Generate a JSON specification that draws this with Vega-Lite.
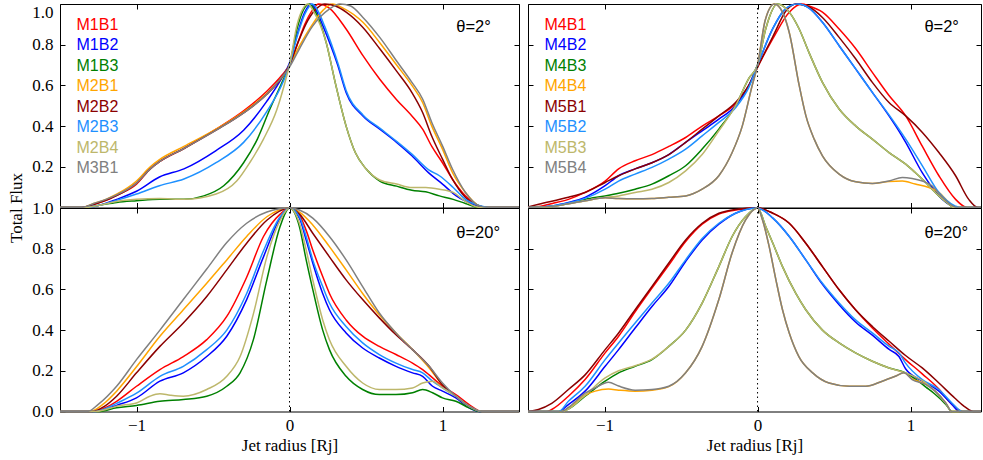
{
"$schema": "https://vega.github.io/schema/vega-lite/v6.json",
"padding": {"left": 7, "top": 0, "right": 0, "bottom": 5},
"background": "white",
"columns": 2,
"spacing": {"row": 0, "column": 9},
"bounds": "flush",
"resolve": {"scale": {"color": "independent"}, "legend": {"color": "independent"}},
"datasets": {
"tl": [
{"s":"M1B1","x":-1.5,"y":0},{"s":"M1B1","x":-1.35,"y":0},{"s":"M1B1","x":-1.28,"y":0.015},{"s":"M1B1","x":-1.2,"y":0.035},{"s":"M1B1","x":-1.13,"y":0.06},{"s":"M1B1","x":-1.0,"y":0.115},{"s":"M1B1","x":-0.91,"y":0.19},{"s":"M1B1","x":-0.85,"y":0.225},{"s":"M1B1","x":-0.69,"y":0.29},{"s":"M1B1","x":-0.48,"y":0.385},{"s":"M1B1","x":-0.3,"y":0.475},{"s":"M1B1","x":-0.15,"y":0.57},{"s":"M1B1","x":-0.05,"y":0.65},{"s":"M1B1","x":0,"y":0.7},{"s":"M1B1","x":0.05,"y":0.8},{"s":"M1B1","x":0.1,"y":0.9},{"s":"M1B1","x":0.15,"y":0.97},{"s":"M1B1","x":0.19,"y":1.0},{"s":"M1B1","x":0.26,"y":0.98},{"s":"M1B1","x":0.37,"y":0.877},{"s":"M1B1","x":0.48,"y":0.746},{"s":"M1B1","x":0.59,"y":0.63},{"s":"M1B1","x":0.7,"y":0.53},{"s":"M1B1","x":0.8,"y":0.45},{"s":"M1B1","x":0.87,"y":0.385},{"s":"M1B1","x":0.93,"y":0.3},{"s":"M1B1","x":1.0,"y":0.22},{"s":"M1B1","x":1.065,"y":0.139},{"s":"M1B1","x":1.15,"y":0.057},{"s":"M1B1","x":1.24,"y":0.008},{"s":"M1B1","x":1.3,"y":0},{"s":"M1B1","x":1.5,"y":0},
{"s":"M1B2","x":-1.5,"y":0},{"s":"M1B2","x":-1.35,"y":0},{"s":"M1B2","x":-1.25,"y":0.01},{"s":"M1B2","x":-1.13,"y":0.04},{"s":"M1B2","x":-1.0,"y":0.08},{"s":"M1B2","x":-0.85,"y":0.15},{"s":"M1B2","x":-0.69,"y":0.19},{"s":"M1B2","x":-0.48,"y":0.28},{"s":"M1B2","x":-0.3,"y":0.38},{"s":"M1B2","x":-0.15,"y":0.52},{"s":"M1B2","x":-0.04,"y":0.65},{"s":"M1B2","x":0,"y":0.71},{"s":"M1B2","x":0.05,"y":0.85},{"s":"M1B2","x":0.1,"y":0.96},{"s":"M1B2","x":0.14,"y":1.0},{"s":"M1B2","x":0.18,"y":0.96},{"s":"M1B2","x":0.22,"y":0.89},{"s":"M1B2","x":0.315,"y":0.7},{"s":"M1B2","x":0.37,"y":0.565},{"s":"M1B2","x":0.48,"y":0.45},{"s":"M1B2","x":0.59,"y":0.385},{"s":"M1B2","x":0.7,"y":0.32},{"s":"M1B2","x":0.8,"y":0.254},{"s":"M1B2","x":0.91,"y":0.17},{"s":"M1B2","x":1.0,"y":0.115},{"s":"M1B2","x":1.09,"y":0.057},{"s":"M1B2","x":1.2,"y":0.016},{"s":"M1B2","x":1.28,"y":0},{"s":"M1B2","x":1.5,"y":0},
{"s":"M1B3","x":-1.5,"y":0},{"s":"M1B3","x":-1.35,"y":0},{"s":"M1B3","x":-1.25,"y":0.01},{"s":"M1B3","x":-1.13,"y":0.025},{"s":"M1B3","x":-1.0,"y":0.033},{"s":"M1B3","x":-0.85,"y":0.04},{"s":"M1B3","x":-0.69,"y":0.04},{"s":"M1B3","x":-0.56,"y":0.057},{"s":"M1B3","x":-0.43,"y":0.107},{"s":"M1B3","x":-0.3,"y":0.22},{"s":"M1B3","x":-0.21,"y":0.336},{"s":"M1B3","x":-0.13,"y":0.48},{"s":"M1B3","x":-0.04,"y":0.63},{"s":"M1B3","x":0,"y":0.7},{"s":"M1B3","x":0.05,"y":0.88},{"s":"M1B3","x":0.09,"y":0.97},{"s":"M1B3","x":0.13,"y":1.0},{"s":"M1B3","x":0.17,"y":0.96},{"s":"M1B3","x":0.24,"y":0.81},{"s":"M1B3","x":0.3,"y":0.61},{"s":"M1B3","x":0.37,"y":0.4},{"s":"M1B3","x":0.43,"y":0.27},{"s":"M1B3","x":0.5,"y":0.19},{"s":"M1B3","x":0.59,"y":0.13},{"s":"M1B3","x":0.7,"y":0.105},{"s":"M1B3","x":0.8,"y":0.085},{"s":"M1B3","x":0.89,"y":0.077},{"s":"M1B3","x":0.98,"y":0.057},{"s":"M1B3","x":1.07,"y":0.04},{"s":"M1B3","x":1.15,"y":0.02},{"s":"M1B3","x":1.24,"y":0},{"s":"M1B3","x":1.5,"y":0},
{"s":"M2B1","x":-1.5,"y":0},{"s":"M2B1","x":-1.36,"y":0},{"s":"M2B1","x":-1.28,"y":0.02},{"s":"M2B1","x":-1.2,"y":0.04},{"s":"M2B1","x":-1.13,"y":0.065},{"s":"M2B1","x":-1.0,"y":0.13},{"s":"M2B1","x":-0.91,"y":0.2},{"s":"M2B1","x":-0.85,"y":0.235},{"s":"M2B1","x":-0.69,"y":0.3},{"s":"M2B1","x":-0.48,"y":0.385},{"s":"M2B1","x":-0.3,"y":0.47},{"s":"M2B1","x":-0.15,"y":0.56},{"s":"M2B1","x":-0.04,"y":0.65},{"s":"M2B1","x":0,"y":0.7},{"s":"M2B1","x":0.07,"y":0.8},{"s":"M2B1","x":0.15,"y":0.9},{"s":"M2B1","x":0.22,"y":0.97},{"s":"M2B1","x":0.28,"y":1.0},{"s":"M2B1","x":0.35,"y":0.98},{"s":"M2B1","x":0.48,"y":0.91},{"s":"M2B1","x":0.59,"y":0.81},{"s":"M2B1","x":0.7,"y":0.7},{"s":"M2B1","x":0.8,"y":0.6},{"s":"M2B1","x":0.87,"y":0.516},{"s":"M2B1","x":0.93,"y":0.4},{"s":"M2B1","x":1.0,"y":0.287},{"s":"M2B1","x":1.065,"y":0.172},{"s":"M2B1","x":1.15,"y":0.074},{"s":"M2B1","x":1.24,"y":0.008},{"s":"M2B1","x":1.3,"y":0},{"s":"M2B1","x":1.5,"y":0},
{"s":"M2B2","x":-1.5,"y":0},{"s":"M2B2","x":-1.36,"y":0},{"s":"M2B2","x":-1.28,"y":0.015},{"s":"M2B2","x":-1.2,"y":0.035},{"s":"M2B2","x":-1.13,"y":0.058},{"s":"M2B2","x":-1.0,"y":0.12},{"s":"M2B2","x":-0.91,"y":0.19},{"s":"M2B2","x":-0.85,"y":0.225},{"s":"M2B2","x":-0.69,"y":0.29},{"s":"M2B2","x":-0.48,"y":0.38},{"s":"M2B2","x":-0.3,"y":0.465},{"s":"M2B2","x":-0.15,"y":0.555},{"s":"M2B2","x":-0.04,"y":0.65},{"s":"M2B2","x":0,"y":0.7},{"s":"M2B2","x":0.06,"y":0.82},{"s":"M2B2","x":0.12,"y":0.92},{"s":"M2B2","x":0.18,"y":0.98},{"s":"M2B2","x":0.23,"y":1.0},{"s":"M2B2","x":0.3,"y":0.99},{"s":"M2B2","x":0.37,"y":0.96},{"s":"M2B2","x":0.48,"y":0.885},{"s":"M2B2","x":0.59,"y":0.78},{"s":"M2B2","x":0.7,"y":0.67},{"s":"M2B2","x":0.8,"y":0.565},{"s":"M2B2","x":0.87,"y":0.467},{"s":"M2B2","x":0.93,"y":0.35},{"s":"M2B2","x":1.0,"y":0.238},{"s":"M2B2","x":1.065,"y":0.139},{"s":"M2B2","x":1.15,"y":0.049},{"s":"M2B2","x":1.24,"y":0.008},{"s":"M2B2","x":1.3,"y":0},{"s":"M2B2","x":1.5,"y":0},
{"s":"M2B3","x":-1.5,"y":0},{"s":"M2B3","x":-1.35,"y":0},{"s":"M2B3","x":-1.25,"y":0.01},{"s":"M2B3","x":-1.13,"y":0.035},{"s":"M2B3","x":-1.0,"y":0.066},{"s":"M2B3","x":-0.85,"y":0.107},{"s":"M2B3","x":-0.69,"y":0.14},{"s":"M2B3","x":-0.48,"y":0.22},{"s":"M2B3","x":-0.3,"y":0.32},{"s":"M2B3","x":-0.15,"y":0.47},{"s":"M2B3","x":-0.04,"y":0.62},{"s":"M2B3","x":0,"y":0.7},{"s":"M2B3","x":0.05,"y":0.84},{"s":"M2B3","x":0.1,"y":0.95},{"s":"M2B3","x":0.15,"y":1.0},{"s":"M2B3","x":0.19,"y":0.96},{"s":"M2B3","x":0.23,"y":0.89},{"s":"M2B3","x":0.32,"y":0.7},{"s":"M2B3","x":0.37,"y":0.575},{"s":"M2B3","x":0.48,"y":0.455},{"s":"M2B3","x":0.59,"y":0.39},{"s":"M2B3","x":0.7,"y":0.325},{"s":"M2B3","x":0.8,"y":0.262},{"s":"M2B3","x":0.91,"y":0.185},{"s":"M2B3","x":0.98,"y":0.156},{"s":"M2B3","x":1.07,"y":0.098},{"s":"M2B3","x":1.15,"y":0.04},{"s":"M2B3","x":1.24,"y":0.01},{"s":"M2B3","x":1.3,"y":0},{"s":"M2B3","x":1.5,"y":0},
{"s":"M2B4","x":-1.5,"y":0},{"s":"M2B4","x":-1.35,"y":0},{"s":"M2B4","x":-1.25,"y":0.01},{"s":"M2B4","x":-1.13,"y":0.03},{"s":"M2B4","x":-1.0,"y":0.04},{"s":"M2B4","x":-0.85,"y":0.044},{"s":"M2B4","x":-0.69,"y":0.04},{"s":"M2B4","x":-0.48,"y":0.066},{"s":"M2B4","x":-0.345,"y":0.13},{"s":"M2B4","x":-0.26,"y":0.22},{"s":"M2B4","x":-0.17,"y":0.336},{"s":"M2B4","x":-0.083,"y":0.48},{"s":"M2B4","x":-0.017,"y":0.65},{"s":"M2B4","x":0,"y":0.7},{"s":"M2B4","x":0.05,"y":0.9},{"s":"M2B4","x":0.09,"y":0.98},{"s":"M2B4","x":0.12,"y":1.0},{"s":"M2B4","x":0.16,"y":0.96},{"s":"M2B4","x":0.24,"y":0.81},{"s":"M2B4","x":0.3,"y":0.61},{"s":"M2B4","x":0.37,"y":0.4},{"s":"M2B4","x":0.43,"y":0.27},{"s":"M2B4","x":0.5,"y":0.19},{"s":"M2B4","x":0.59,"y":0.135},{"s":"M2B4","x":0.7,"y":0.115},{"s":"M2B4","x":0.8,"y":0.098},{"s":"M2B4","x":0.89,"y":0.098},{"s":"M2B4","x":0.98,"y":0.09},{"s":"M2B4","x":1.07,"y":0.074},{"s":"M2B4","x":1.15,"y":0.03},{"s":"M2B4","x":1.24,"y":0},{"s":"M2B4","x":1.5,"y":0},
{"s":"M3B1","x":-1.5,"y":0},{"s":"M3B1","x":-1.36,"y":0},{"s":"M3B1","x":-1.28,"y":0.02},{"s":"M3B1","x":-1.2,"y":0.04},{"s":"M3B1","x":-1.13,"y":0.062},{"s":"M3B1","x":-1.0,"y":0.12},{"s":"M3B1","x":-0.91,"y":0.19},{"s":"M3B1","x":-0.85,"y":0.225},{"s":"M3B1","x":-0.69,"y":0.29},{"s":"M3B1","x":-0.48,"y":0.38},{"s":"M3B1","x":-0.3,"y":0.465},{"s":"M3B1","x":-0.15,"y":0.555},{"s":"M3B1","x":-0.04,"y":0.65},{"s":"M3B1","x":0,"y":0.69},{"s":"M3B1","x":0.065,"y":0.78},{"s":"M3B1","x":0.15,"y":0.89},{"s":"M3B1","x":0.26,"y":0.975},{"s":"M3B1","x":0.33,"y":1.0},{"s":"M3B1","x":0.4,"y":0.99},{"s":"M3B1","x":0.48,"y":0.934},{"s":"M3B1","x":0.59,"y":0.836},{"s":"M3B1","x":0.7,"y":0.72},{"s":"M3B1","x":0.8,"y":0.615},{"s":"M3B1","x":0.87,"y":0.533},{"s":"M3B1","x":0.93,"y":0.418},{"s":"M3B1","x":1.0,"y":0.303},{"s":"M3B1","x":1.065,"y":0.189},{"s":"M3B1","x":1.15,"y":0.074},{"s":"M3B1","x":1.24,"y":0.008},{"s":"M3B1","x":1.3,"y":0},{"s":"M3B1","x":1.5,"y":0}
],
"bl": [
{"s":"M1B1","x":-1.5,"y":0},{"s":"M1B1","x":-1.28,"y":0},{"s":"M1B1","x":-1.2,"y":0.02},{"s":"M1B1","x":-1.13,"y":0.05},{"s":"M1B1","x":-1.0,"y":0.124},{"s":"M1B1","x":-0.847,"y":0.206},{"s":"M1B1","x":-0.694,"y":0.27},{"s":"M1B1","x":-0.541,"y":0.353},{"s":"M1B1","x":-0.41,"y":0.467},{"s":"M1B1","x":-0.28,"y":0.66},{"s":"M1B1","x":-0.17,"y":0.86},{"s":"M1B1","x":-0.061,"y":0.97},{"s":"M1B1","x":0,"y":1},{"s":"M1B1","x":0.065,"y":0.965},{"s":"M1B1","x":0.109,"y":0.89},{"s":"M1B1","x":0.152,"y":0.794},{"s":"M1B1","x":0.217,"y":0.663},{"s":"M1B1","x":0.261,"y":0.58},{"s":"M1B1","x":0.37,"y":0.45},{"s":"M1B1","x":0.478,"y":0.37},{"s":"M1B1","x":0.587,"y":0.32},{"s":"M1B1","x":0.696,"y":0.28},{"s":"M1B1","x":0.804,"y":0.238},{"s":"M1B1","x":0.87,"y":0.206},{"s":"M1B1","x":0.913,"y":0.18},{"s":"M1B1","x":1.0,"y":0.124},{"s":"M1B1","x":1.087,"y":0.083},{"s":"M1B1","x":1.174,"y":0.034},{"s":"M1B1","x":1.26,"y":0},{"s":"M1B1","x":1.5,"y":0},
{"s":"M1B2","x":-1.5,"y":0},{"s":"M1B2","x":-1.27,"y":0},{"s":"M1B2","x":-1.2,"y":0.012},{"s":"M1B2","x":-1.13,"y":0.03},{"s":"M1B2","x":-1.0,"y":0.067},{"s":"M1B2","x":-0.847,"y":0.149},{"s":"M1B2","x":-0.694,"y":0.19},{"s":"M1B2","x":-0.541,"y":0.27},{"s":"M1B2","x":-0.41,"y":0.37},{"s":"M1B2","x":-0.28,"y":0.55},{"s":"M1B2","x":-0.17,"y":0.76},{"s":"M1B2","x":-0.061,"y":0.95},{"s":"M1B2","x":0,"y":1},{"s":"M1B2","x":0.065,"y":0.95},{"s":"M1B2","x":0.109,"y":0.843},{"s":"M1B2","x":0.152,"y":0.73},{"s":"M1B2","x":0.217,"y":0.58},{"s":"M1B2","x":0.261,"y":0.5},{"s":"M1B2","x":0.37,"y":0.386},{"s":"M1B2","x":0.478,"y":0.312},{"s":"M1B2","x":0.587,"y":0.263},{"s":"M1B2","x":0.696,"y":0.222},{"s":"M1B2","x":0.804,"y":0.19},{"s":"M1B2","x":0.87,"y":0.173},{"s":"M1B2","x":0.935,"y":0.124},{"s":"M1B2","x":1.0,"y":0.1},{"s":"M1B2","x":1.087,"y":0.067},{"s":"M1B2","x":1.174,"y":0.018},{"s":"M1B2","x":1.24,"y":0},{"s":"M1B2","x":1.5,"y":0},
{"s":"M1B3","x":-1.5,"y":0},{"s":"M1B3","x":-1.25,"y":0},{"s":"M1B3","x":-1.13,"y":0.018},{"s":"M1B3","x":-1.0,"y":0.03},{"s":"M1B3","x":-0.847,"y":0.05},{"s":"M1B3","x":-0.694,"y":0.059},{"s":"M1B3","x":-0.541,"y":0.075},{"s":"M1B3","x":-0.41,"y":0.124},{"s":"M1B3","x":-0.323,"y":0.19},{"s":"M1B3","x":-0.236,"y":0.353},{"s":"M1B3","x":-0.148,"y":0.647},{"s":"M1B3","x":-0.061,"y":0.91},{"s":"M1B3","x":0,"y":1},{"s":"M1B3","x":0.065,"y":0.908},{"s":"M1B3","x":0.109,"y":0.745},{"s":"M1B3","x":0.152,"y":0.6},{"s":"M1B3","x":0.217,"y":0.4},{"s":"M1B3","x":0.261,"y":0.304},{"s":"M1B3","x":0.37,"y":0.173},{"s":"M1B3","x":0.478,"y":0.108},{"s":"M1B3","x":0.587,"y":0.083},{"s":"M1B3","x":0.696,"y":0.083},{"s":"M1B3","x":0.804,"y":0.092},{"s":"M1B3","x":0.87,"y":0.108},{"s":"M1B3","x":0.935,"y":0.092},{"s":"M1B3","x":1.0,"y":0.067},{"s":"M1B3","x":1.087,"y":0.05},{"s":"M1B3","x":1.174,"y":0.018},{"s":"M1B3","x":1.24,"y":0},{"s":"M1B3","x":1.5,"y":0},
{"s":"M2B1","x":-1.5,"y":0},{"s":"M2B1","x":-1.3,"y":0},{"s":"M2B1","x":-1.22,"y":0.035},{"s":"M2B1","x":-1.13,"y":0.1},{"s":"M2B1","x":-1.0,"y":0.22},{"s":"M2B1","x":-0.847,"y":0.37},{"s":"M2B1","x":-0.694,"y":0.5},{"s":"M2B1","x":-0.541,"y":0.63},{"s":"M2B1","x":-0.41,"y":0.745},{"s":"M2B1","x":-0.28,"y":0.86},{"s":"M2B1","x":-0.148,"y":0.957},{"s":"M2B1","x":0,"y":1},{"s":"M2B1","x":0.065,"y":0.98},{"s":"M2B1","x":0.152,"y":0.917},{"s":"M2B1","x":0.261,"y":0.81},{"s":"M2B1","x":0.37,"y":0.696},{"s":"M2B1","x":0.478,"y":0.58},{"s":"M2B1","x":0.587,"y":0.475},{"s":"M2B1","x":0.696,"y":0.386},{"s":"M2B1","x":0.804,"y":0.304},{"s":"M2B1","x":0.913,"y":0.214},{"s":"M2B1","x":1.0,"y":0.13},{"s":"M2B1","x":1.087,"y":0.075},{"s":"M2B1","x":1.174,"y":0.026},{"s":"M2B1","x":1.26,"y":0},{"s":"M2B1","x":1.5,"y":0},
{"s":"M2B2","x":-1.5,"y":0},{"s":"M2B2","x":-1.29,"y":0},{"s":"M2B2","x":-1.21,"y":0.025},{"s":"M2B2","x":-1.13,"y":0.075},{"s":"M2B2","x":-1.0,"y":0.19},{"s":"M2B2","x":-0.847,"y":0.32},{"s":"M2B2","x":-0.694,"y":0.435},{"s":"M2B2","x":-0.541,"y":0.565},{"s":"M2B2","x":-0.41,"y":0.696},{"s":"M2B2","x":-0.28,"y":0.827},{"s":"M2B2","x":-0.148,"y":0.94},{"s":"M2B2","x":0,"y":1},{"s":"M2B2","x":0.065,"y":0.97},{"s":"M2B2","x":0.152,"y":0.876},{"s":"M2B2","x":0.261,"y":0.76},{"s":"M2B2","x":0.37,"y":0.647},{"s":"M2B2","x":0.478,"y":0.55},{"s":"M2B2","x":0.587,"y":0.46},{"s":"M2B2","x":0.696,"y":0.377},{"s":"M2B2","x":0.804,"y":0.304},{"s":"M2B2","x":0.913,"y":0.222},{"s":"M2B2","x":1.0,"y":0.13},{"s":"M2B2","x":1.087,"y":0.075},{"s":"M2B2","x":1.174,"y":0.026},{"s":"M2B2","x":1.26,"y":0},{"s":"M2B2","x":1.5,"y":0},
{"s":"M2B3","x":-1.5,"y":0},{"s":"M2B3","x":-1.27,"y":0},{"s":"M2B3","x":-1.2,"y":0.015},{"s":"M2B3","x":-1.13,"y":0.04},{"s":"M2B3","x":-1.0,"y":0.09},{"s":"M2B3","x":-0.847,"y":0.173},{"s":"M2B3","x":-0.694,"y":0.222},{"s":"M2B3","x":-0.541,"y":0.304},{"s":"M2B3","x":-0.41,"y":0.4},{"s":"M2B3","x":-0.28,"y":0.58},{"s":"M2B3","x":-0.17,"y":0.79},{"s":"M2B3","x":-0.061,"y":0.957},{"s":"M2B3","x":0,"y":1},{"s":"M2B3","x":0.065,"y":0.957},{"s":"M2B3","x":0.109,"y":0.86},{"s":"M2B3","x":0.152,"y":0.745},{"s":"M2B3","x":0.217,"y":0.614},{"s":"M2B3","x":0.261,"y":0.533},{"s":"M2B3","x":0.37,"y":0.418},{"s":"M2B3","x":0.478,"y":0.337},{"s":"M2B3","x":0.587,"y":0.28},{"s":"M2B3","x":0.696,"y":0.238},{"s":"M2B3","x":0.804,"y":0.206},{"s":"M2B3","x":0.87,"y":0.19},{"s":"M2B3","x":0.935,"y":0.149},{"s":"M2B3","x":1.0,"y":0.116},{"s":"M2B3","x":1.087,"y":0.075},{"s":"M2B3","x":1.174,"y":0.026},{"s":"M2B3","x":1.26,"y":0},{"s":"M2B3","x":1.5,"y":0},
{"s":"M2B4","x":-1.5,"y":0},{"s":"M2B4","x":-1.27,"y":0},{"s":"M2B4","x":-1.2,"y":0.01},{"s":"M2B4","x":-1.13,"y":0.026},{"s":"M2B4","x":-1.0,"y":0.042},{"s":"M2B4","x":-0.913,"y":0.075},{"s":"M2B4","x":-0.847,"y":0.087},{"s":"M2B4","x":-0.78,"y":0.08},{"s":"M2B4","x":-0.694,"y":0.075},{"s":"M2B4","x":-0.541,"y":0.108},{"s":"M2B4","x":-0.41,"y":0.173},{"s":"M2B4","x":-0.323,"y":0.27},{"s":"M2B4","x":-0.236,"y":0.48},{"s":"M2B4","x":-0.148,"y":0.76},{"s":"M2B4","x":-0.061,"y":0.94},{"s":"M2B4","x":0,"y":1},{"s":"M2B4","x":0.065,"y":0.925},{"s":"M2B4","x":0.109,"y":0.794},{"s":"M2B4","x":0.152,"y":0.647},{"s":"M2B4","x":0.217,"y":0.45},{"s":"M2B4","x":0.261,"y":0.353},{"s":"M2B4","x":0.37,"y":0.222},{"s":"M2B4","x":0.478,"y":0.14},{"s":"M2B4","x":0.587,"y":0.108},{"s":"M2B4","x":0.696,"y":0.108},{"s":"M2B4","x":0.804,"y":0.116},{"s":"M2B4","x":0.87,"y":0.14},{"s":"M2B4","x":0.935,"y":0.149},{"s":"M2B4","x":1.0,"y":0.116},{"s":"M2B4","x":1.087,"y":0.075},{"s":"M2B4","x":1.174,"y":0.026},{"s":"M2B4","x":1.26,"y":0},{"s":"M2B4","x":1.5,"y":0},
{"s":"M3B1","x":-1.5,"y":0},{"s":"M3B1","x":-1.32,"y":0},{"s":"M3B1","x":-1.25,"y":0.035},{"s":"M3B1","x":-1.13,"y":0.124},{"s":"M3B1","x":-1.0,"y":0.255},{"s":"M3B1","x":-0.847,"y":0.4},{"s":"M3B1","x":-0.694,"y":0.55},{"s":"M3B1","x":-0.541,"y":0.7},{"s":"M3B1","x":-0.41,"y":0.83},{"s":"M3B1","x":-0.28,"y":0.925},{"s":"M3B1","x":-0.148,"y":0.98},{"s":"M3B1","x":0,"y":1},{"s":"M3B1","x":0.065,"y":0.99},{"s":"M3B1","x":0.152,"y":0.95},{"s":"M3B1","x":0.261,"y":0.86},{"s":"M3B1","x":0.37,"y":0.745},{"s":"M3B1","x":0.478,"y":0.614},{"s":"M3B1","x":0.587,"y":0.484},{"s":"M3B1","x":0.696,"y":0.386},{"s":"M3B1","x":0.804,"y":0.304},{"s":"M3B1","x":0.913,"y":0.222},{"s":"M3B1","x":1.0,"y":0.14},{"s":"M3B1","x":1.087,"y":0.075},{"s":"M3B1","x":1.174,"y":0.026},{"s":"M3B1","x":1.26,"y":0},{"s":"M3B1","x":1.5,"y":0}
],
"tr": [
{"s":"M4B1","x":-1.5,"y":0},{"s":"M4B1","x":-1.43,"y":0.005},{"s":"M4B1","x":-1.34,"y":0.02},{"s":"M4B1","x":-1.236,"y":0.04},{"s":"M4B1","x":-1.127,"y":0.074},{"s":"M4B1","x":-0.996,"y":0.13},{"s":"M4B1","x":-0.908,"y":0.19},{"s":"M4B1","x":-0.8,"y":0.23},{"s":"M4B1","x":-0.69,"y":0.26},{"s":"M4B1","x":-0.58,"y":0.3},{"s":"M4B1","x":-0.47,"y":0.344},{"s":"M4B1","x":-0.362,"y":0.4},{"s":"M4B1","x":-0.253,"y":0.45},{"s":"M4B1","x":-0.144,"y":0.51},{"s":"M4B1","x":-0.057,"y":0.6},{"s":"M4B1","x":0,"y":0.69},{"s":"M4B1","x":0.1,"y":0.83},{"s":"M4B1","x":0.207,"y":0.96},{"s":"M4B1","x":0.29,"y":1.0},{"s":"M4B1","x":0.337,"y":0.99},{"s":"M4B1","x":0.424,"y":0.96},{"s":"M4B1","x":0.533,"y":0.877},{"s":"M4B1","x":0.642,"y":0.78},{"s":"M4B1","x":0.75,"y":0.664},{"s":"M4B1","x":0.859,"y":0.55},{"s":"M4B1","x":0.968,"y":0.45},{"s":"M4B1","x":1.077,"y":0.3},{"s":"M4B1","x":1.185,"y":0.156},{"s":"M4B1","x":1.294,"y":0.04},{"s":"M4B1","x":1.35,"y":0.005},{"s":"M4B1","x":1.37,"y":0},{"s":"M4B1","x":1.46,"y":0},
{"s":"M4B2","x":-1.5,"y":0},{"s":"M4B2","x":-1.345,"y":0.008},{"s":"M4B2","x":-1.236,"y":0.025},{"s":"M4B2","x":-1.127,"y":0.05},{"s":"M4B2","x":-0.996,"y":0.107},{"s":"M4B2","x":-0.908,"y":0.156},{"s":"M4B2","x":-0.8,"y":0.19},{"s":"M4B2","x":-0.69,"y":0.22},{"s":"M4B2","x":-0.58,"y":0.26},{"s":"M4B2","x":-0.47,"y":0.32},{"s":"M4B2","x":-0.362,"y":0.377},{"s":"M4B2","x":-0.253,"y":0.434},{"s":"M4B2","x":-0.144,"y":0.5},{"s":"M4B2","x":-0.057,"y":0.6},{"s":"M4B2","x":0,"y":0.7},{"s":"M4B2","x":0.1,"y":0.88},{"s":"M4B2","x":0.175,"y":0.97},{"s":"M4B2","x":0.26,"y":1.0},{"s":"M4B2","x":0.337,"y":0.98},{"s":"M4B2","x":0.424,"y":0.91},{"s":"M4B2","x":0.533,"y":0.795},{"s":"M4B2","x":0.642,"y":0.68},{"s":"M4B2","x":0.75,"y":0.566},{"s":"M4B2","x":0.859,"y":0.45},{"s":"M4B2","x":0.92,"y":0.38},{"s":"M4B2","x":0.968,"y":0.32},{"s":"M4B2","x":1.077,"y":0.17},{"s":"M4B2","x":1.185,"y":0.057},{"s":"M4B2","x":1.27,"y":0.008},{"s":"M4B2","x":1.31,"y":0},{"s":"M4B2","x":1.46,"y":0},
{"s":"M4B3","x":-1.5,"y":0},{"s":"M4B3","x":-1.345,"y":0.005},{"s":"M4B3","x":-1.236,"y":0.02},{"s":"M4B3","x":-1.127,"y":0.04},{"s":"M4B3","x":-0.996,"y":0.057},{"s":"M4B3","x":-0.908,"y":0.07},{"s":"M4B3","x":-0.8,"y":0.09},{"s":"M4B3","x":-0.69,"y":0.115},{"s":"M4B3","x":-0.58,"y":0.156},{"s":"M4B3","x":-0.47,"y":0.205},{"s":"M4B3","x":-0.362,"y":0.287},{"s":"M4B3","x":-0.253,"y":0.385},{"s":"M4B3","x":-0.144,"y":0.5},{"s":"M4B3","x":-0.057,"y":0.635},{"s":"M4B3","x":0,"y":0.7},{"s":"M4B3","x":0.054,"y":0.88},{"s":"M4B3","x":0.13,"y":1.0},{"s":"M4B3","x":0.207,"y":0.96},{"s":"M4B3","x":0.272,"y":0.877},{"s":"M4B3","x":0.337,"y":0.76},{"s":"M4B3","x":0.424,"y":0.615},{"s":"M4B3","x":0.533,"y":0.484},{"s":"M4B3","x":0.642,"y":0.4},{"s":"M4B3","x":0.75,"y":0.336},{"s":"M4B3","x":0.859,"y":0.27},{"s":"M4B3","x":0.968,"y":0.213},{"s":"M4B3","x":1.03,"y":0.172},{"s":"M4B3","x":1.077,"y":0.139},{"s":"M4B3","x":1.185,"y":0.057},{"s":"M4B3","x":1.25,"y":0.016},{"s":"M4B3","x":1.28,"y":0},{"s":"M4B3","x":1.46,"y":0},
{"s":"M4B4","x":-1.5,"y":0},{"s":"M4B4","x":-1.345,"y":0.005},{"s":"M4B4","x":-1.236,"y":0.018},{"s":"M4B4","x":-1.127,"y":0.033},{"s":"M4B4","x":-0.996,"y":0.048},{"s":"M4B4","x":-0.908,"y":0.044},{"s":"M4B4","x":-0.8,"y":0.043},{"s":"M4B4","x":-0.69,"y":0.044},{"s":"M4B4","x":-0.58,"y":0.05},{"s":"M4B4","x":-0.47,"y":0.057},{"s":"M4B4","x":-0.362,"y":0.09},{"s":"M4B4","x":-0.253,"y":0.156},{"s":"M4B4","x":-0.166,"y":0.27},{"s":"M4B4","x":-0.1,"y":0.4},{"s":"M4B4","x":-0.035,"y":0.6},{"s":"M4B4","x":0,"y":0.7},{"s":"M4B4","x":0.05,"y":0.92},{"s":"M4B4","x":0.11,"y":1.0},{"s":"M4B4","x":0.163,"y":0.96},{"s":"M4B4","x":0.207,"y":0.86},{"s":"M4B4","x":0.272,"y":0.6},{"s":"M4B4","x":0.316,"y":0.45},{"s":"M4B4","x":0.37,"y":0.336},{"s":"M4B4","x":0.424,"y":0.254},{"s":"M4B4","x":0.533,"y":0.164},{"s":"M4B4","x":0.642,"y":0.126},{"s":"M4B4","x":0.75,"y":0.118},{"s":"M4B4","x":0.859,"y":0.128},{"s":"M4B4","x":0.946,"y":0.13},{"s":"M4B4","x":1.03,"y":0.115},{"s":"M4B4","x":1.12,"y":0.098},{"s":"M4B4","x":1.185,"y":0.074},{"s":"M4B4","x":1.25,"y":0.025},{"s":"M4B4","x":1.29,"y":0},{"s":"M4B4","x":1.46,"y":0},
{"s":"M5B1","x":-1.5,"y":0.003},{"s":"M5B1","x":-1.43,"y":0.016},{"s":"M5B1","x":-1.236,"y":0.05},{"s":"M5B1","x":-1.127,"y":0.074},{"s":"M5B1","x":-0.996,"y":0.123},{"s":"M5B1","x":-0.908,"y":0.156},{"s":"M5B1","x":-0.8,"y":0.19},{"s":"M5B1","x":-0.69,"y":0.22},{"s":"M5B1","x":-0.58,"y":0.26},{"s":"M5B1","x":-0.47,"y":0.32},{"s":"M5B1","x":-0.362,"y":0.385},{"s":"M5B1","x":-0.253,"y":0.45},{"s":"M5B1","x":-0.144,"y":0.516},{"s":"M5B1","x":-0.057,"y":0.6},{"s":"M5B1","x":0,"y":0.69},{"s":"M5B1","x":0.1,"y":0.84},{"s":"M5B1","x":0.19,"y":0.97},{"s":"M5B1","x":0.25,"y":1.0},{"s":"M5B1","x":0.337,"y":0.985},{"s":"M5B1","x":0.424,"y":0.934},{"s":"M5B1","x":0.533,"y":0.836},{"s":"M5B1","x":0.642,"y":0.73},{"s":"M5B1","x":0.75,"y":0.615},{"s":"M5B1","x":0.859,"y":0.516},{"s":"M5B1","x":0.968,"y":0.45},{"s":"M5B1","x":1.077,"y":0.369},{"s":"M5B1","x":1.185,"y":0.27},{"s":"M5B1","x":1.294,"y":0.156},{"s":"M5B1","x":1.38,"y":0.04},{"s":"M5B1","x":1.44,"y":0},{"s":"M5B1","x":1.46,"y":0},
{"s":"M5B2","x":-1.5,"y":0},{"s":"M5B2","x":-1.345,"y":0.008},{"s":"M5B2","x":-1.236,"y":0.022},{"s":"M5B2","x":-1.127,"y":0.045},{"s":"M5B2","x":-0.996,"y":0.09},{"s":"M5B2","x":-0.908,"y":0.13},{"s":"M5B2","x":-0.8,"y":0.164},{"s":"M5B2","x":-0.69,"y":0.197},{"s":"M5B2","x":-0.58,"y":0.238},{"s":"M5B2","x":-0.47,"y":0.287},{"s":"M5B2","x":-0.362,"y":0.352},{"s":"M5B2","x":-0.253,"y":0.418},{"s":"M5B2","x":-0.144,"y":0.49},{"s":"M5B2","x":-0.057,"y":0.59},{"s":"M5B2","x":0,"y":0.7},{"s":"M5B2","x":0.1,"y":0.88},{"s":"M5B2","x":0.175,"y":0.97},{"s":"M5B2","x":0.26,"y":1.0},{"s":"M5B2","x":0.337,"y":0.98},{"s":"M5B2","x":0.424,"y":0.91},{"s":"M5B2","x":0.533,"y":0.795},{"s":"M5B2","x":0.642,"y":0.68},{"s":"M5B2","x":0.75,"y":0.566},{"s":"M5B2","x":0.859,"y":0.455},{"s":"M5B2","x":0.968,"y":0.336},{"s":"M5B2","x":1.077,"y":0.205},{"s":"M5B2","x":1.185,"y":0.074},{"s":"M5B2","x":1.29,"y":0.008},{"s":"M5B2","x":1.32,"y":0},{"s":"M5B2","x":1.46,"y":0},
{"s":"M5B3","x":-1.5,"y":0},{"s":"M5B3","x":-1.345,"y":0.005},{"s":"M5B3","x":-1.236,"y":0.018},{"s":"M5B3","x":-1.127,"y":0.033},{"s":"M5B3","x":-0.996,"y":0.05},{"s":"M5B3","x":-0.908,"y":0.057},{"s":"M5B3","x":-0.8,"y":0.074},{"s":"M5B3","x":-0.69,"y":0.09},{"s":"M5B3","x":-0.58,"y":0.123},{"s":"M5B3","x":-0.47,"y":0.18},{"s":"M5B3","x":-0.362,"y":0.26},{"s":"M5B3","x":-0.253,"y":0.377},{"s":"M5B3","x":-0.144,"y":0.5},{"s":"M5B3","x":-0.057,"y":0.635},{"s":"M5B3","x":0,"y":0.7},{"s":"M5B3","x":0.054,"y":0.88},{"s":"M5B3","x":0.13,"y":1.0},{"s":"M5B3","x":0.207,"y":0.96},{"s":"M5B3","x":0.272,"y":0.877},{"s":"M5B3","x":0.337,"y":0.76},{"s":"M5B3","x":0.424,"y":0.615},{"s":"M5B3","x":0.533,"y":0.484},{"s":"M5B3","x":0.642,"y":0.4},{"s":"M5B3","x":0.75,"y":0.336},{"s":"M5B3","x":0.859,"y":0.27},{"s":"M5B3","x":0.968,"y":0.213},{"s":"M5B3","x":1.03,"y":0.172},{"s":"M5B3","x":1.077,"y":0.139},{"s":"M5B3","x":1.185,"y":0.057},{"s":"M5B3","x":1.25,"y":0.016},{"s":"M5B3","x":1.28,"y":0},{"s":"M5B3","x":1.46,"y":0},
{"s":"M5B4","x":-1.5,"y":0},{"s":"M5B4","x":-1.345,"y":0.005},{"s":"M5B4","x":-1.236,"y":0.018},{"s":"M5B4","x":-1.127,"y":0.033},{"s":"M5B4","x":-0.996,"y":0.048},{"s":"M5B4","x":-0.908,"y":0.044},{"s":"M5B4","x":-0.8,"y":0.043},{"s":"M5B4","x":-0.69,"y":0.044},{"s":"M5B4","x":-0.58,"y":0.05},{"s":"M5B4","x":-0.47,"y":0.057},{"s":"M5B4","x":-0.362,"y":0.09},{"s":"M5B4","x":-0.253,"y":0.156},{"s":"M5B4","x":-0.166,"y":0.27},{"s":"M5B4","x":-0.1,"y":0.4},{"s":"M5B4","x":-0.035,"y":0.6},{"s":"M5B4","x":0,"y":0.7},{"s":"M5B4","x":0.05,"y":0.92},{"s":"M5B4","x":0.11,"y":1.0},{"s":"M5B4","x":0.163,"y":0.96},{"s":"M5B4","x":0.207,"y":0.86},{"s":"M5B4","x":0.272,"y":0.6},{"s":"M5B4","x":0.316,"y":0.45},{"s":"M5B4","x":0.37,"y":0.336},{"s":"M5B4","x":0.424,"y":0.254},{"s":"M5B4","x":0.533,"y":0.164},{"s":"M5B4","x":0.642,"y":0.126},{"s":"M5B4","x":0.75,"y":0.118},{"s":"M5B4","x":0.859,"y":0.13},{"s":"M5B4","x":0.946,"y":0.148},{"s":"M5B4","x":1.01,"y":0.143},{"s":"M5B4","x":1.077,"y":0.13},{"s":"M5B4","x":1.14,"y":0.107},{"s":"M5B4","x":1.2,"y":0.057},{"s":"M5B4","x":1.27,"y":0.01},{"s":"M5B4","x":1.3,"y":0},{"s":"M5B4","x":1.46,"y":0}
],
"br": [
{"s":"M4B1","x":-1.5,"y":0},{"s":"M4B1","x":-1.38,"y":0},{"s":"M4B1","x":-1.345,"y":0.01},{"s":"M4B1","x":-1.236,"y":0.075},{"s":"M4B1","x":-1.127,"y":0.157},{"s":"M4B1","x":-0.996,"y":0.288},{"s":"M4B1","x":-0.908,"y":0.37},{"s":"M4B1","x":-0.8,"y":0.49},{"s":"M4B1","x":-0.69,"y":0.606},{"s":"M4B1","x":-0.58,"y":0.72},{"s":"M4B1","x":-0.47,"y":0.835},{"s":"M4B1","x":-0.362,"y":0.92},{"s":"M4B1","x":-0.253,"y":0.97},{"s":"M4B1","x":-0.144,"y":0.99},{"s":"M4B1","x":0,"y":1},{"s":"M4B1","x":0.1,"y":0.974},{"s":"M4B1","x":0.207,"y":0.925},{"s":"M4B1","x":0.315,"y":0.827},{"s":"M4B1","x":0.424,"y":0.712},{"s":"M4B1","x":0.533,"y":0.598},{"s":"M4B1","x":0.64,"y":0.5},{"s":"M4B1","x":0.75,"y":0.41},{"s":"M4B1","x":0.86,"y":0.33},{"s":"M4B1","x":0.967,"y":0.255},{"s":"M4B1","x":1.076,"y":0.185},{"s":"M4B1","x":1.185,"y":0.11},{"s":"M4B1","x":1.25,"y":0.05},{"s":"M4B1","x":1.31,"y":0.01},{"s":"M4B1","x":1.34,"y":0},{"s":"M4B1","x":1.46,"y":0},
{"s":"M4B2","x":-1.5,"y":0},{"s":"M4B2","x":-1.3,"y":0},{"s":"M4B2","x":-1.236,"y":0.034},{"s":"M4B2","x":-1.127,"y":0.1},{"s":"M4B2","x":-0.996,"y":0.222},{"s":"M4B2","x":-0.908,"y":0.304},{"s":"M4B2","x":-0.8,"y":0.41},{"s":"M4B2","x":-0.69,"y":0.516},{"s":"M4B2","x":-0.58,"y":0.614},{"s":"M4B2","x":-0.47,"y":0.737},{"s":"M4B2","x":-0.362,"y":0.843},{"s":"M4B2","x":-0.253,"y":0.92},{"s":"M4B2","x":-0.144,"y":0.974},{"s":"M4B2","x":0,"y":1},{"s":"M4B2","x":0.1,"y":0.95},{"s":"M4B2","x":0.207,"y":0.86},{"s":"M4B2","x":0.315,"y":0.745},{"s":"M4B2","x":0.424,"y":0.625},{"s":"M4B2","x":0.533,"y":0.525},{"s":"M4B2","x":0.64,"y":0.44},{"s":"M4B2","x":0.75,"y":0.375},{"s":"M4B2","x":0.86,"y":0.305},{"s":"M4B2","x":0.924,"y":0.27},{"s":"M4B2","x":0.967,"y":0.21},{"s":"M4B2","x":1.076,"y":0.15},{"s":"M4B2","x":1.185,"y":0.1},{"s":"M4B2","x":1.27,"y":0.035},{"s":"M4B2","x":1.32,"y":0},{"s":"M4B2","x":1.46,"y":0},
{"s":"M4B3","x":-1.5,"y":0},{"s":"M4B3","x":-1.28,"y":0},{"s":"M4B3","x":-1.236,"y":0.012},{"s":"M4B3","x":-1.127,"y":0.075},{"s":"M4B3","x":-0.996,"y":0.149},{"s":"M4B3","x":-0.908,"y":0.19},{"s":"M4B3","x":-0.8,"y":0.222},{"s":"M4B3","x":-0.69,"y":0.255},{"s":"M4B3","x":-0.58,"y":0.32},{"s":"M4B3","x":-0.47,"y":0.4},{"s":"M4B3","x":-0.362,"y":0.533},{"s":"M4B3","x":-0.253,"y":0.712},{"s":"M4B3","x":-0.166,"y":0.86},{"s":"M4B3","x":-0.079,"y":0.957},{"s":"M4B3","x":0,"y":1},{"s":"M4B3","x":0.054,"y":0.908},{"s":"M4B3","x":0.1,"y":0.827},{"s":"M4B3","x":0.163,"y":0.712},{"s":"M4B3","x":0.25,"y":0.58},{"s":"M4B3","x":0.315,"y":0.5},{"s":"M4B3","x":0.424,"y":0.4},{"s":"M4B3","x":0.533,"y":0.337},{"s":"M4B3","x":0.64,"y":0.288},{"s":"M4B3","x":0.75,"y":0.247},{"s":"M4B3","x":0.86,"y":0.214},{"s":"M4B3","x":0.967,"y":0.19},{"s":"M4B3","x":1.03,"y":0.16},{"s":"M4B3","x":1.1,"y":0.12},{"s":"M4B3","x":1.16,"y":0.085},{"s":"M4B3","x":1.23,"y":0.035},{"s":"M4B3","x":1.27,"y":0},{"s":"M4B3","x":1.46,"y":0},
{"s":"M4B4","x":-1.5,"y":0},{"s":"M4B4","x":-1.28,"y":0},{"s":"M4B4","x":-1.236,"y":0.015},{"s":"M4B4","x":-1.127,"y":0.08},{"s":"M4B4","x":-1.061,"y":0.1},{"s":"M4B4","x":-0.974,"y":0.11},{"s":"M4B4","x":-0.908,"y":0.105},{"s":"M4B4","x":-0.8,"y":0.1},{"s":"M4B4","x":-0.69,"y":0.105},{"s":"M4B4","x":-0.58,"y":0.122},{"s":"M4B4","x":-0.47,"y":0.19},{"s":"M4B4","x":-0.362,"y":0.32},{"s":"M4B4","x":-0.253,"y":0.55},{"s":"M4B4","x":-0.166,"y":0.78},{"s":"M4B4","x":-0.079,"y":0.94},{"s":"M4B4","x":0,"y":1},{"s":"M4B4","x":0.033,"y":0.94},{"s":"M4B4","x":0.076,"y":0.81},{"s":"M4B4","x":0.12,"y":0.647},{"s":"M4B4","x":0.163,"y":0.5},{"s":"M4B4","x":0.207,"y":0.386},{"s":"M4B4","x":0.27,"y":0.27},{"s":"M4B4","x":0.36,"y":0.19},{"s":"M4B4","x":0.467,"y":0.14},{"s":"M4B4","x":0.6,"y":0.124},{"s":"M4B4","x":0.707,"y":0.124},{"s":"M4B4","x":0.815,"y":0.149},{"s":"M4B4","x":0.9,"y":0.173},{"s":"M4B4","x":0.956,"y":0.19},{"s":"M4B4","x":1.01,"y":0.16},{"s":"M4B4","x":1.1,"y":0.135},{"s":"M4B4","x":1.16,"y":0.1},{"s":"M4B4","x":1.23,"y":0.042},{"s":"M4B4","x":1.27,"y":0},{"s":"M4B4","x":1.46,"y":0},
{"s":"M5B1","x":-1.5,"y":0},{"s":"M5B1","x":-1.432,"y":0.01},{"s":"M5B1","x":-1.345,"y":0.04},{"s":"M5B1","x":-1.236,"y":0.108},{"s":"M5B1","x":-1.127,"y":0.18},{"s":"M5B1","x":-0.996,"y":0.304},{"s":"M5B1","x":-0.908,"y":0.386},{"s":"M5B1","x":-0.8,"y":0.5},{"s":"M5B1","x":-0.69,"y":0.614},{"s":"M5B1","x":-0.58,"y":0.73},{"s":"M5B1","x":-0.47,"y":0.843},{"s":"M5B1","x":-0.362,"y":0.925},{"s":"M5B1","x":-0.253,"y":0.974},{"s":"M5B1","x":-0.144,"y":0.993},{"s":"M5B1","x":0,"y":1},{"s":"M5B1","x":0.1,"y":0.974},{"s":"M5B1","x":0.207,"y":0.925},{"s":"M5B1","x":0.315,"y":0.827},{"s":"M5B1","x":0.424,"y":0.712},{"s":"M5B1","x":0.533,"y":0.598},{"s":"M5B1","x":0.64,"y":0.5},{"s":"M5B1","x":0.75,"y":0.418},{"s":"M5B1","x":0.86,"y":0.345},{"s":"M5B1","x":0.967,"y":0.275},{"s":"M5B1","x":1.076,"y":0.214},{"s":"M5B1","x":1.185,"y":0.14},{"s":"M5B1","x":1.29,"y":0.065},{"s":"M5B1","x":1.36,"y":0.02},{"s":"M5B1","x":1.41,"y":0},{"s":"M5B1","x":1.46,"y":0},
{"s":"M5B2","x":-1.5,"y":0},{"s":"M5B2","x":-1.3,"y":0},{"s":"M5B2","x":-1.236,"y":0.05},{"s":"M5B2","x":-1.127,"y":0.124},{"s":"M5B2","x":-0.996,"y":0.255},{"s":"M5B2","x":-0.908,"y":0.337},{"s":"M5B2","x":-0.8,"y":0.435},{"s":"M5B2","x":-0.69,"y":0.533},{"s":"M5B2","x":-0.58,"y":0.63},{"s":"M5B2","x":-0.47,"y":0.745},{"s":"M5B2","x":-0.362,"y":0.85},{"s":"M5B2","x":-0.253,"y":0.925},{"s":"M5B2","x":-0.144,"y":0.974},{"s":"M5B2","x":0,"y":1},{"s":"M5B2","x":0.1,"y":0.95},{"s":"M5B2","x":0.207,"y":0.86},{"s":"M5B2","x":0.315,"y":0.745},{"s":"M5B2","x":0.424,"y":0.63},{"s":"M5B2","x":0.533,"y":0.533},{"s":"M5B2","x":0.64,"y":0.45},{"s":"M5B2","x":0.75,"y":0.386},{"s":"M5B2","x":0.86,"y":0.32},{"s":"M5B2","x":0.924,"y":0.288},{"s":"M5B2","x":0.967,"y":0.238},{"s":"M5B2","x":1.076,"y":0.157},{"s":"M5B2","x":1.185,"y":0.108},{"s":"M5B2","x":1.27,"y":0.042},{"s":"M5B2","x":1.34,"y":0},{"s":"M5B2","x":1.46,"y":0},
{"s":"M5B3","x":-1.5,"y":0},{"s":"M5B3","x":-1.28,"y":0},{"s":"M5B3","x":-1.236,"y":0.012},{"s":"M5B3","x":-1.127,"y":0.08},{"s":"M5B3","x":-0.996,"y":0.165},{"s":"M5B3","x":-0.908,"y":0.2},{"s":"M5B3","x":-0.8,"y":0.225},{"s":"M5B3","x":-0.69,"y":0.257},{"s":"M5B3","x":-0.58,"y":0.32},{"s":"M5B3","x":-0.47,"y":0.4},{"s":"M5B3","x":-0.362,"y":0.533},{"s":"M5B3","x":-0.253,"y":0.712},{"s":"M5B3","x":-0.166,"y":0.86},{"s":"M5B3","x":-0.079,"y":0.957},{"s":"M5B3","x":0,"y":1},{"s":"M5B3","x":0.054,"y":0.908},{"s":"M5B3","x":0.1,"y":0.827},{"s":"M5B3","x":0.163,"y":0.712},{"s":"M5B3","x":0.25,"y":0.58},{"s":"M5B3","x":0.315,"y":0.5},{"s":"M5B3","x":0.424,"y":0.4},{"s":"M5B3","x":0.533,"y":0.337},{"s":"M5B3","x":0.64,"y":0.288},{"s":"M5B3","x":0.75,"y":0.247},{"s":"M5B3","x":0.86,"y":0.214},{"s":"M5B3","x":0.967,"y":0.19},{"s":"M5B3","x":1.03,"y":0.17},{"s":"M5B3","x":1.1,"y":0.14},{"s":"M5B3","x":1.16,"y":0.1},{"s":"M5B3","x":1.23,"y":0.04},{"s":"M5B3","x":1.27,"y":0},{"s":"M5B3","x":1.46,"y":0},
{"s":"M5B4","x":-1.5,"y":0},{"s":"M5B4","x":-1.28,"y":0},{"s":"M5B4","x":-1.236,"y":0.02},{"s":"M5B4","x":-1.127,"y":0.09},{"s":"M5B4","x":-1.061,"y":0.116},{"s":"M5B4","x":-0.974,"y":0.144},{"s":"M5B4","x":-0.908,"y":0.125},{"s":"M5B4","x":-0.8,"y":0.105},{"s":"M5B4","x":-0.69,"y":0.108},{"s":"M5B4","x":-0.58,"y":0.124},{"s":"M5B4","x":-0.47,"y":0.19},{"s":"M5B4","x":-0.362,"y":0.32},{"s":"M5B4","x":-0.253,"y":0.55},{"s":"M5B4","x":-0.166,"y":0.78},{"s":"M5B4","x":-0.079,"y":0.94},{"s":"M5B4","x":0,"y":1},{"s":"M5B4","x":0.033,"y":0.94},{"s":"M5B4","x":0.076,"y":0.81},{"s":"M5B4","x":0.12,"y":0.647},{"s":"M5B4","x":0.163,"y":0.5},{"s":"M5B4","x":0.207,"y":0.386},{"s":"M5B4","x":0.27,"y":0.27},{"s":"M5B4","x":0.36,"y":0.19},{"s":"M5B4","x":0.467,"y":0.14},{"s":"M5B4","x":0.6,"y":0.124},{"s":"M5B4","x":0.707,"y":0.124},{"s":"M5B4","x":0.815,"y":0.149},{"s":"M5B4","x":0.9,"y":0.173},{"s":"M5B4","x":0.956,"y":0.19},{"s":"M5B4","x":1.01,"y":0.157},{"s":"M5B4","x":1.1,"y":0.132},{"s":"M5B4","x":1.16,"y":0.1},{"s":"M5B4","x":1.23,"y":0.042},{"s":"M5B4","x":1.27,"y":0},{"s":"M5B4","x":1.46,"y":0}
]
},
"concat": [
{
"width": 459, "height": 203.5,
"layer": [
{"data": {"name": "tl"}, "mark": {"type": "line", "strokeWidth": 1.5, "interpolate": "monotone"},
 "encoding": {
  "x": {"field": "x", "type": "quantitative", "scale": {"domain": [-1.5, 1.5], "nice": false, "zero": false}, "axis": {"orient": "bottom", "values": [-1, 0, 1], "labels": false, "title": null}},
  "y": {"field": "y", "type": "quantitative", "scale": {"domain": [0, 1], "nice": false}, "axis": {"orient": "left", "values": [0.2, 0.4, 0.6, 0.8, 1.0], "format": ".1f", "labelFlush": true, "title": "Total Flux", "titleY": 203.5, "titleAlign": "center", "titlePadding": 6}},
  "color": {"field": "s", "type": "nominal", "scale": {"domain": ["M1B1","M1B2","M1B3","M2B1","M2B2","M2B3","M2B4","M3B1"], "range": ["#ff0000","#0000ff","#008000","#ffa500","#8b0000","#1e90ff","#bdb76b","#808080"]},
   "legend": {"orient": "none", "legendX": 0.5, "legendY": 12.5, "title": null, "labelFont": "Liberation Sans", "labelFontSize": 16, "symbolSize": 0, "symbolOpacity": 0, "symbolStrokeWidth": 0, "labelOffset": 0, "rowPadding": 4.5, "padding": 0,
    "labelColor": {"expr": "['#ff0000','#0000ff','#008000','#ffa500','#8b0000','#1e90ff','#bdb76b','#808080'][datum.index]"}}}
 }},
{"data": {"values": [{}]}, "mark": {"type": "rule", "color": "black", "strokeWidth": 1, "strokeDash": [1.5, 3]},
 "encoding": {
  "x": {"datum": 0, "type": "quantitative", "axis": {"orient": "top", "values": [-1, 0, 1], "labels": false, "title": null}},
  "y": {"datum": 0, "type": "quantitative", "axis": {"orient": "right", "values": [0.2, 0.4, 0.6, 0.8, 1.0], "labels": false, "title": null}},
  "y2": {"datum": 1}
 }},
{"data": {"values": [{}]}, "mark": {"type": "text", "align": "left", "baseline": "middle", "font": "Liberation Sans", "fontSize": 16.5, "color": "black"},
 "encoding": {"x": {"datum": 1.09, "type": "quantitative", "axis": null}, "y": {"datum": 0.885, "type": "quantitative", "axis": null}, "text": {"value": "θ=2°"}}}
]
},
{
"width": 453, "height": 203.5,
"layer": [
{"data": {"name": "tr"}, "mark": {"type": "line", "strokeWidth": 1.5, "interpolate": "monotone"},
 "encoding": {
  "x": {"field": "x", "type": "quantitative", "scale": {"domain": [-1.5, 1.46], "nice": false, "zero": false}, "axis": {"orient": "bottom", "values": [-1, 0, 1], "labels": false, "title": null}},
  "y": {"field": "y", "type": "quantitative", "scale": {"domain": [0, 1], "nice": false}, "axis": {"orient": "left", "values": [0.2, 0.4, 0.6, 0.8, 1.0], "labels": false, "title": null}},
  "color": {"field": "s", "type": "nominal", "scale": {"domain": ["M4B1","M4B2","M4B3","M4B4","M5B1","M5B2","M5B3","M5B4"], "range": ["#ff0000","#0000ff","#008000","#ffa500","#8b0000","#1e90ff","#bdb76b","#808080"]},
   "legend": {"orient": "none", "legendX": 0.5, "legendY": 12.5, "title": null, "labelFont": "Liberation Sans", "labelFontSize": 16, "symbolSize": 0, "symbolOpacity": 0, "symbolStrokeWidth": 0, "labelOffset": 0, "rowPadding": 4.5, "padding": 0,
    "labelColor": {"expr": "['#ff0000','#0000ff','#008000','#ffa500','#8b0000','#1e90ff','#bdb76b','#808080'][datum.index]"}}}
 }},
{"data": {"values": [{}]}, "mark": {"type": "rule", "color": "black", "strokeWidth": 1, "strokeDash": [1.5, 3]},
 "encoding": {
  "x": {"datum": 0, "type": "quantitative", "axis": {"orient": "top", "values": [-1, 0, 1], "labels": false, "title": null}},
  "y": {"datum": 0, "type": "quantitative", "axis": {"orient": "right", "values": [0.2, 0.4, 0.6, 0.8, 1.0], "labels": false, "title": null}},
  "y2": {"datum": 1}
 }},
{"data": {"values": [{}]}, "mark": {"type": "text", "align": "left", "baseline": "middle", "font": "Liberation Sans", "fontSize": 16.5, "color": "black"},
 "encoding": {"x": {"datum": 1.09, "type": "quantitative", "axis": null}, "y": {"datum": 0.885, "type": "quantitative", "axis": null}, "text": {"value": "θ=2°"}}}
]
},
{
"width": 459, "height": 203.5,
"layer": [
{"data": {"name": "bl"}, "mark": {"type": "line", "strokeWidth": 1.5, "interpolate": "monotone"},
 "encoding": {
  "x": {"field": "x", "type": "quantitative", "scale": {"domain": [-1.5, 1.5], "nice": false, "zero": false}, "axis": {"orient": "bottom", "values": [-1, 0, 1], "format": "d", "title": "Jet radius [Rj]"}},
  "y": {"field": "y", "type": "quantitative", "scale": {"domain": [0, 1], "nice": false}, "axis": {"orient": "left", "values": [0, 0.2, 0.4, 0.6, 0.8, 1.0], "format": ".1f", "title": null}},
  "color": {"field": "s", "type": "nominal", "scale": {"domain": ["M1B1","M1B2","M1B3","M2B1","M2B2","M2B3","M2B4","M3B1"], "range": ["#ff0000","#0000ff","#008000","#ffa500","#8b0000","#1e90ff","#bdb76b","#808080"]}, "legend": null}
 }},
{"data": {"values": [{}]}, "mark": {"type": "rule", "color": "black", "strokeWidth": 1, "strokeDash": [1.5, 3]},
 "encoding": {
  "x": {"datum": 0, "type": "quantitative", "axis": {"orient": "top", "values": [-1, 0, 1], "labels": false, "title": null}},
  "y": {"datum": 0, "type": "quantitative", "axis": {"orient": "right", "values": [0.2, 0.4, 0.6, 0.8, 1.0], "labels": false, "title": null}},
  "y2": {"datum": 1}
 }},
{"data": {"values": [{}]}, "mark": {"type": "text", "align": "left", "baseline": "middle", "font": "Liberation Sans", "fontSize": 16.5, "color": "black"},
 "encoding": {"x": {"datum": 1.09, "type": "quantitative", "axis": null}, "y": {"datum": 0.877, "type": "quantitative", "axis": null}, "text": {"value": "θ=20°"}}}
]
},
{
"width": 453, "height": 203.5,
"layer": [
{"data": {"name": "br"}, "mark": {"type": "line", "strokeWidth": 1.5, "interpolate": "monotone"},
 "encoding": {
  "x": {"field": "x", "type": "quantitative", "scale": {"domain": [-1.5, 1.46], "nice": false, "zero": false}, "axis": {"orient": "bottom", "values": [-1, 0, 1], "format": "d", "title": "Jet radius [Rj]"}},
  "y": {"field": "y", "type": "quantitative", "scale": {"domain": [0, 1], "nice": false}, "axis": {"orient": "left", "values": [0.2, 0.4, 0.6, 0.8, 1.0], "labels": false, "title": null}},
  "color": {"field": "s", "type": "nominal", "scale": {"domain": ["M4B1","M4B2","M4B3","M4B4","M5B1","M5B2","M5B3","M5B4"], "range": ["#ff0000","#0000ff","#008000","#ffa500","#8b0000","#1e90ff","#bdb76b","#808080"]}, "legend": null}
 }},
{"data": {"values": [{}]}, "mark": {"type": "rule", "color": "black", "strokeWidth": 1, "strokeDash": [1.5, 3]},
 "encoding": {
  "x": {"datum": 0, "type": "quantitative", "axis": {"orient": "top", "values": [-1, 0, 1], "labels": false, "title": null}},
  "y": {"datum": 0, "type": "quantitative", "axis": {"orient": "right", "values": [0.2, 0.4, 0.6, 0.8, 1.0], "labels": false, "title": null}},
  "y2": {"datum": 1}
 }},
{"data": {"values": [{}]}, "mark": {"type": "text", "align": "left", "baseline": "middle", "font": "Liberation Sans", "fontSize": 16.5, "color": "black"},
 "encoding": {"x": {"datum": 1.09, "type": "quantitative", "axis": null}, "y": {"datum": 0.877, "type": "quantitative", "axis": null}, "text": {"value": "θ=20°"}}}
]
}
],
"config": {
 "view": {"stroke": "black", "strokeWidth": 1},
 "axis": {"domain": false, "grid": false, "ticks": true, "tickSize": -5, "tickColor": "black", "tickWidth": 1, "labelFont": "Liberation Serif", "labelFontSize": 17, "labelColor": "black", "titleFont": "Liberation Serif", "titleFontSize": 17, "titleFontWeight": "normal", "titleColor": "black"},
 "axisX": {"labelPadding": 11, "titlePadding": 4},
 "axisY": {"labelPadding": 12}
}
}
